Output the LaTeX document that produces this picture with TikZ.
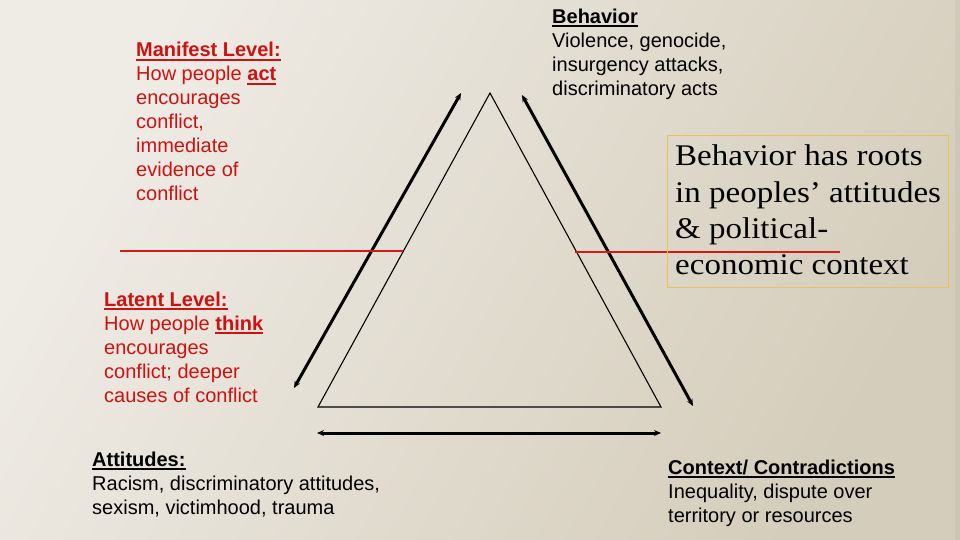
\documentclass[tikz,border=0pt]{standalone}
\usepackage{fontspec}
\usetikzlibrary{arrows.meta}
\newfontfamily\sansf{Liberation Sans}
\newfontfamily\serf[FakeStretch=1.1]{Liberation Serif}
\definecolor{redtxt}{RGB}{204,18,18}
\definecolor{redline}{RGB}{210,24,24}
\definecolor{goldbox}{RGB}{236,192,90}
\definecolor{bgUL}{RGB}{239,236,230}
\definecolor{bgLR}{RGB}{213,205,187}
\newcommand\ulx[1]{\setbox0\hbox{#1}\rlap{\rule[-3.6pt]{\wd0}{1.8pt}}\box0}
\newcommand\textlines[2]{\vtop{\baselineskip=#1\lineskiplimit=-100pt\lineskip=0pt\halign{##\hfil\cr #2\crcr}}}
\begin{document}
\begin{tikzpicture}[x=1pt,y=-1pt,
  sanstext/.style={inner sep=0pt,anchor=base west,font=\sansf\fontsize{20}{24}\selectfont},
  redtext/.style={sanstext,text=redtxt},
  thickarrow/.style={line width=3pt,{Stealth[length=7pt,width=6pt]}-{Stealth[length=7pt,width=6pt]}},
  thinline/.style={line width=1.1pt},
  levelline/.style={draw=redline,line width=2.5pt}]
\useasboundingbox (0,0) rectangle (960,540);
\shade[top color=bgUL,bottom color=bgLR,shading angle=60] (0,0) rectangle (960,540);
\fill[black,opacity=0.035] (955,0) rectangle (960,540);

% triangle
\coordinate (A) at (490,93);
\coordinate (B) at (318,407);
\coordinate (C) at (661,407);
\draw[thinline] (A) -- (B) -- (C) -- cycle;

% arrows
\coordinate (L1) at (294,388);
\coordinate (L2) at (461,93);
\coordinate (R1) at (522,95);
\coordinate (R2) at (693,406);
\coordinate (D1) at (317,433);
\coordinate (D2) at (661,433);
\draw[thickarrow] (L1) -- (L2);
\draw[thickarrow] (R1) -- (R2);
\draw[thickarrow] (D1) -- (D2);

% red level lines
\coordinate (ML1) at (120,251);
\coordinate (ML2) at (403,251);
\coordinate (MR1) at (575,252);
\coordinate (MR2) at (840,252);
\draw[levelline] (ML1) -- (ML2);
\draw[levelline] (MR1) -- (MR2);

% texts
\node[redtext] (manifest) at (136,57) {\textlines{24pt}{%
\bfseries\ulx{Manifest Level:}\cr
How people \bfseries\ulx{act}\cr
encourages\cr
conflict,\cr
immediate\cr
evidence of\cr
conflict}};

\node[redtext] (latent) at (104,306.5) {\textlines{24pt}{%
\bfseries\ulx{Latent Level:}\cr
How people \bfseries\ulx{think}\cr
encourages\cr
conflict; deeper\cr
causes of conflict}};

\node[sanstext] (attitudes) at (92,466) {\textlines{24pt}{%
\bfseries\ulx{Attitudes:}\cr
Racism, discriminatory attitudes,\cr
sexism, victimhood, trauma}};

\node[sanstext] (behavior) at (552,23.5) {\textlines{24pt}{%
\bfseries\ulx{Behavior}\cr
Violence, genocide,\cr
insurgency attacks,\cr
discriminatory acts}};

\node[sanstext] (context) at (668,474) {\textlines{24pt}{%
\bfseries\ulx{Context/ Contradictions}\cr
Inequality, dispute over\cr
territory or resources}};

% box
\node[draw=goldbox,line width=1.2pt,minimum width=281pt,minimum height=152pt,anchor=north west,inner sep=0pt] (rootbox) at (667,135) {};
\node[inner sep=0pt,anchor=base west,font=\serf\fontsize{30}{36}\selectfont] (roots) at (675,166) {\textlines{36pt}{%
Behavior has roots\cr
in peoples’ attitudes\cr
\& political-\cr
economic context}};
\end{tikzpicture}
\end{document}
